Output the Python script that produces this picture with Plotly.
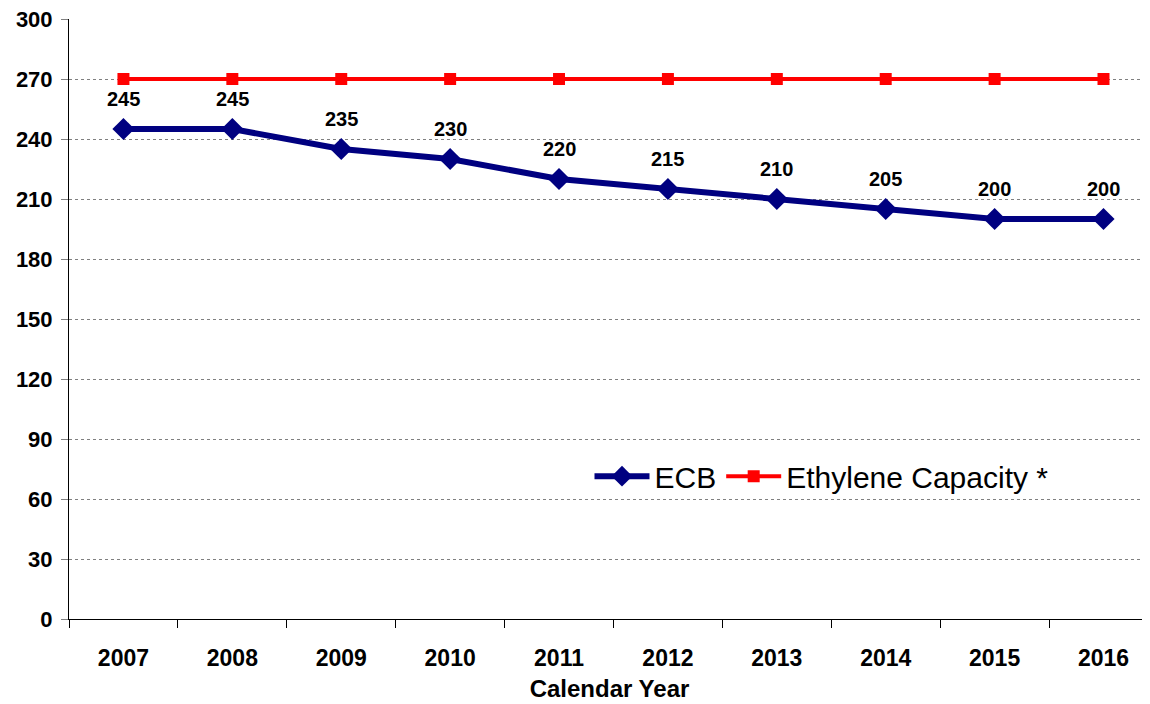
import plotly.graph_objects as go

years = ["2007", "2008", "2009", "2010", "2011", "2012", "2013", "2014", "2015", "2016"]
ecb = [245, 245, 235, 230, 220, 215, 210, 205, 200, 200]
ethylene = [270, 270, 270, 270, 270, 270, 270, 270, 270, 270]
y_ticks = [0, 30, 60, 90, 120, 150, 180, 210, 240, 270, 300]

FONT = "Liberation Sans, Arial, sans-serif"

fig = go.Figure()
fig.add_trace(go.Scatter(
    x=years, y=ecb, name="ECB", mode="lines+markers",
    line=dict(color="#000080", width=6),
    marker=dict(symbol="diamond", size=17, color="#000080"),
))
fig.add_trace(go.Scatter(
    x=years, y=ethylene, name="Ethylene Capacity *", mode="lines+markers",
    line=dict(color="#FF0000", width=4),
    marker=dict(symbol="square", size=12, color="#FF0000"),
))

for i, v in enumerate(ecb):
    fig.add_annotation(x=i, y=v, xref="x", yref="y", text=f"<b>{v}</b>",
                       showarrow=False, yshift=30,
                       font=dict(family=FONT, size=20, color="black"))

fig.update_layout(
    width=1142, height=696,
    margin=dict(l=61, r=0, t=11, b=85, autoexpand=False),
    plot_bgcolor="white", paper_bgcolor="white",
    font=dict(family=FONT, color="black"),
    showlegend=True,
    legend=dict(orientation="h", x=0.4815, y=0.238, xanchor="left", yanchor="middle",
                font=dict(family=FONT, size=30, color="black"),
                bgcolor="rgba(0,0,0,0)", itemwidth=55),
    xaxis=dict(
        type="category", range=[-0.5, 9.427], tickson="boundaries", automargin=False,
        showgrid=False, showline=True, linecolor="black", linewidth=1,
        ticks="outside", ticklen=8, tickcolor="black",
        tickfont=dict(family=FONT, size=23, color="black"),
        ticklabelstandoff=18, ticklabeloverflow="allow",
        tickvals=years, ticktext=[f"<b>{y}</b>" for y in years],
        title=dict(text="<b>Calendar Year</b>", font=dict(family=FONT, size=24, color="black"), standoff=10),
    ),
    yaxis=dict(
        range=[0, 300], tickvals=y_ticks, ticktext=[f"<b>{t}</b>" for t in y_ticks],
        automargin=False, ticklabeloverflow="allow",
        showgrid=True, gridcolor="#808080", griddash="dot", gridwidth=1,
        showline=True, linecolor="black", linewidth=1,
        ticks="outside", ticklen=7, tickcolor="#808080",
        tickfont=dict(family=FONT, size=22, color="black"),
        ticklabelstandoff=4, zeroline=False,
    ),
)

fig.write_html("out.html")
